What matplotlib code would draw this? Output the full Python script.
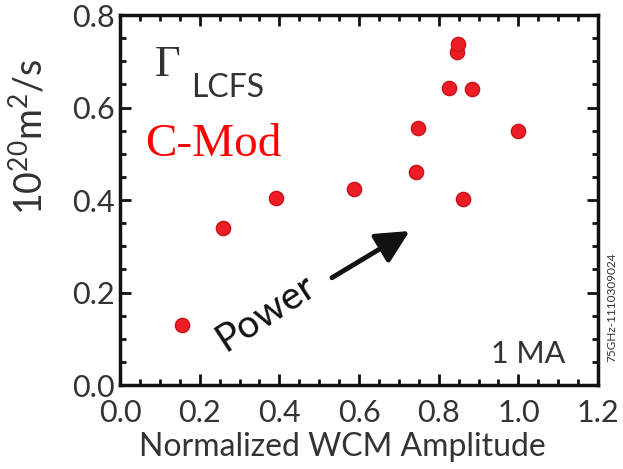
import matplotlib
matplotlib.use("Agg")
import matplotlib.pyplot as plt
from matplotlib.ticker import MultipleLocator, FormatStrFormatter

wcm_amplitude = [0.156, 0.259, 0.392, 0.587, 0.743, 0.748, 0.826, 0.846, 0.849, 0.884, 0.861, 0.999]
gamma_lcfs = [0.130, 0.339, 0.404, 0.424, 0.461, 0.556, 0.642, 0.720, 0.737, 0.640, 0.402, 0.549]

x_label = "Normalized WCM Amplitude"
y_label = r"10$^{20}$m$^{2}$/s"

plt.rcParams['font.family'] = ['Lato', 'DejaVu Sans']
plt.rcParams['mathtext.fontset'] = 'custom'
plt.rcParams['mathtext.rm'] = 'Lato'
plt.rcParams['mathtext.it'] = 'Lato'
text_color = '#333333'

fig = plt.figure(figsize=(6.23, 4.69), dpi=100)
ax = fig.add_axes([0.1926, 0.179, 0.7674, 0.789])

ax.scatter(wcm_amplitude, gamma_lcfs, s=105, color='#ee1c24', edgecolor='#c8141a', linewidth=1.0, zorder=3)

ax.set_xlim(0, 1.2)
ax.set_ylim(0, 0.8)
ax.xaxis.set_major_locator(MultipleLocator(0.2))
ax.xaxis.set_minor_locator(MultipleLocator(0.05))
ax.yaxis.set_major_locator(MultipleLocator(0.2))
ax.yaxis.set_minor_locator(MultipleLocator(0.05))
ax.xaxis.set_major_formatter(FormatStrFormatter('%.1f'))
ax.yaxis.set_major_formatter(FormatStrFormatter('%.1f'))
ax.tick_params(which='both', direction='in', top=True, right=True, width=2, colors='#111111',
               labelcolor=text_color, labelsize=22)
ax.tick_params(axis='x', which='both', pad=10)
ax.tick_params(axis='y', which='both', pad=4)
ax.tick_params(which='major', length=8)
ax.tick_params(which='minor', length=4)
for s in ax.spines.values():
    s.set_linewidth(2.5)
    s.set_color('#111111')

ax.set_xlabel(x_label, fontsize=23, color=text_color)
ax.xaxis.set_label_coords(0.465, -0.127)
ax.set_ylabel(y_label, fontsize=27, color=text_color)
ax.yaxis.set_label_coords(-0.148, 0.67)

# Gamma_LCFS label
ax.text(0.088, 0.668, "\u0393", family='Liberation Serif', fontsize=32, color=text_color,
        ha='left', va='baseline')
ax.text(0.178, 0.622, "LCFS", fontsize=23, color=text_color, ha='left', va='baseline')

# C-Mod
ax.text(0.062, 0.495, "C-Mod", family='Liberation Serif', fontsize=34, color='#ff0000',
        ha='left', va='baseline')

# Power arrow
ax.text(0.365, 0.157, "Power", fontsize=28, color='#111111', rotation=33,
        ha='center', va='center', rotation_mode='anchor')
ax.annotate("", xy=(0.727, 0.333), xytext=(0.532, 0.232),
            arrowprops=dict(arrowstyle='-|>,head_length=1.0,head_width=0.5', mutation_scale=20,
                            lw=3.5, color='#111111', shrinkA=0, shrinkB=0))

# 1 MA
ax.text(1.117, 0.048, "1 MA", fontsize=22, color=text_color, ha='right', va='baseline')

# side id
fig.text(0.982, 0.345, "75GHz-1110309024", fontsize=8.5, color=text_color, rotation=90,
         ha='center', va='center')

fig.savefig("out.png", dpi=100)
